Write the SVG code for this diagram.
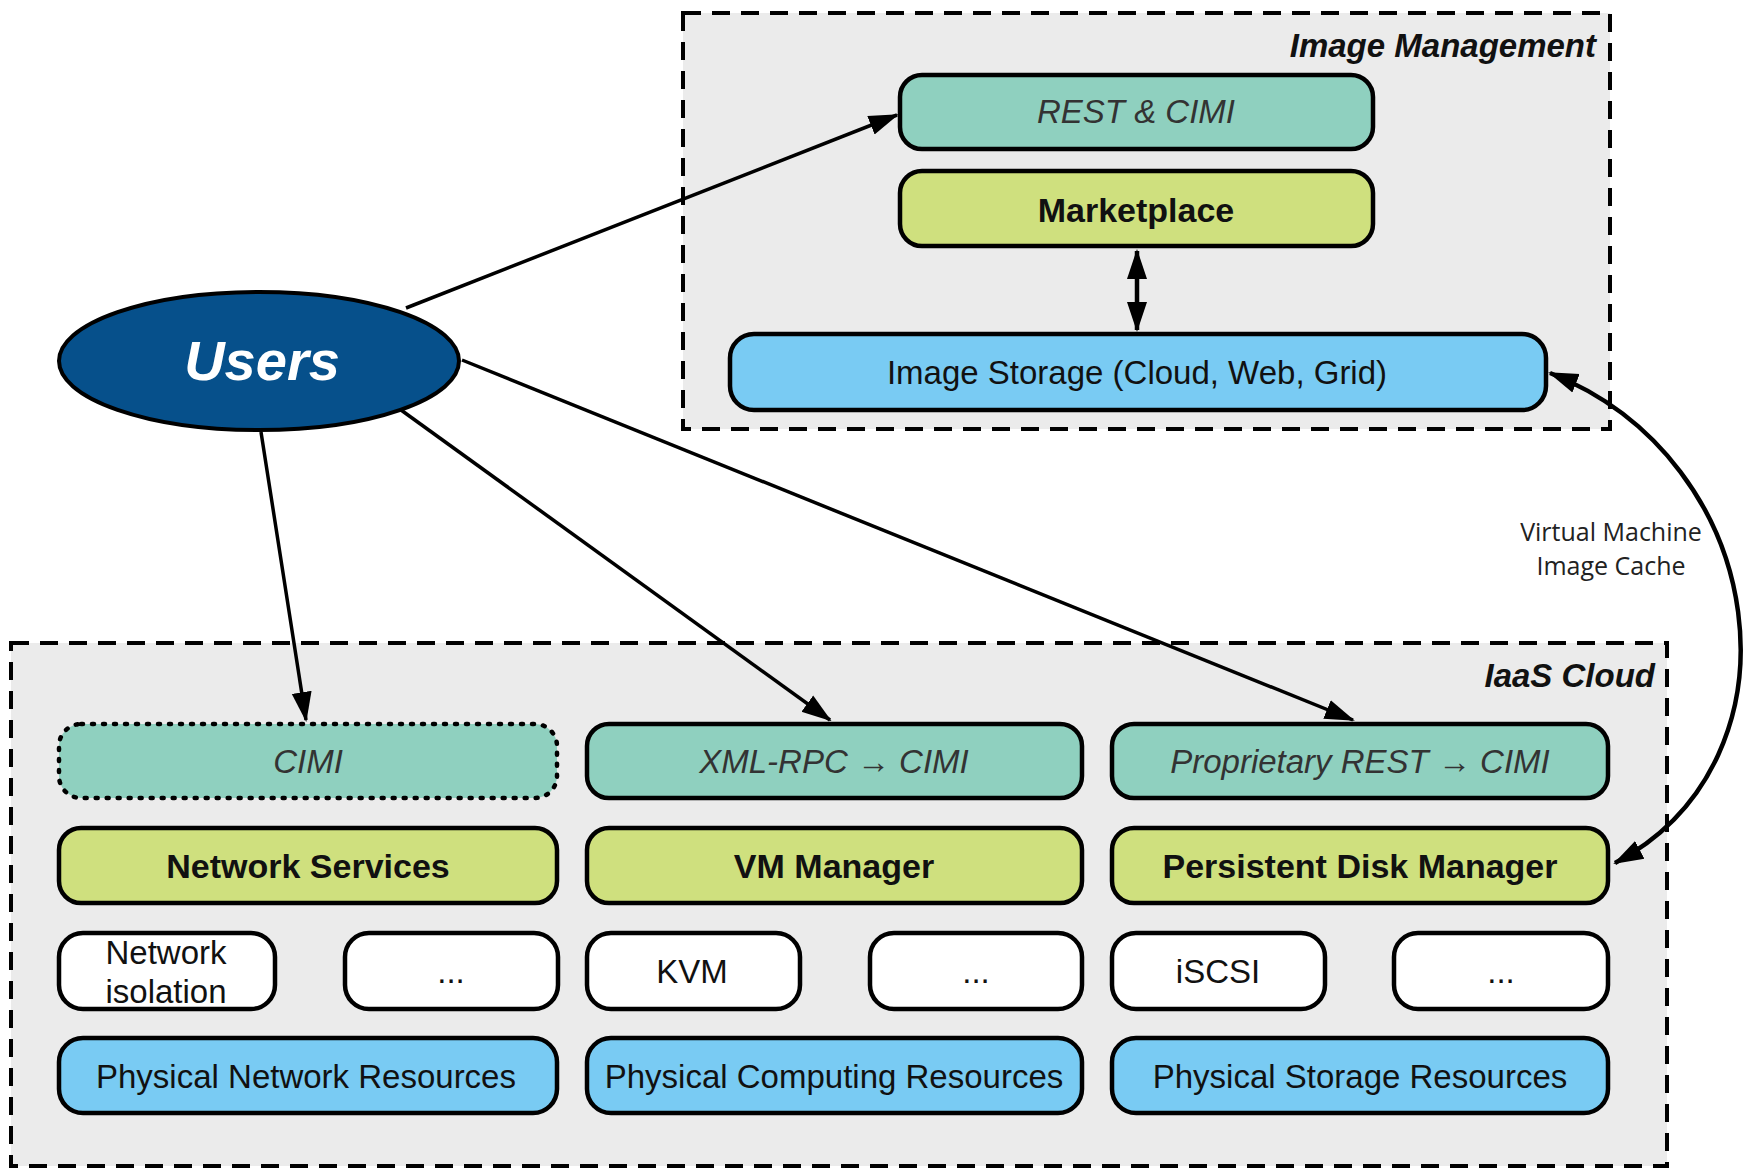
<svg xmlns="http://www.w3.org/2000/svg" width="1746" height="1168" viewBox="0 0 1746 1168">
<style>
.cont{fill:#ebebeb;stroke:#000;stroke-width:4;stroke-dasharray:18 11}
.box{stroke:#000;stroke-width:4.5}
.teal{fill:#8fd0bf}
.lime{fill:#cfe07e}
.blue{fill:#79cbf3}
.white{fill:#fff}
.t{font-family:"Liberation Sans",Arial,sans-serif;font-size:33px;fill:#111;text-anchor:middle}
.it{font-style:italic;fill:#333}
.b{font-weight:bold;font-size:34px}
.title{font-family:"Liberation Sans",Arial,sans-serif;font-weight:bold;font-style:italic;font-size:33px;text-anchor:end;fill:#111}
.conn{fill:none;stroke:#000;stroke-width:3.5}
.thick{stroke-width:4.5}
</style>
<defs>
<marker id="ah" markerUnits="userSpaceOnUse" markerWidth="30" markerHeight="22" refX="28" refY="10" orient="auto-start-reverse" viewBox="0 0 30 20">
<path d="M0,0 L30,10 L0,20 z" fill="#000"/>
</marker>
</defs>
<rect width="1746" height="1168" fill="#fff"/>

<g id="image-management">
<rect class="cont" x="683" y="13" width="927" height="416"/>
<text class="title" x="1596" y="57">Image Management</text>
</g>
<g id="iaas-cloud">
<rect class="cont" x="11" y="643" width="1656" height="523"/>
<text class="title" x="1655" y="687">IaaS Cloud</text>
</g>

<g id="rest-cimi"><rect class="box teal" x="900" y="75" width="473" height="74" rx="22"/><text class="t it" x="1136" y="123">REST &amp; CIMI</text></g>
<g id="marketplace"><rect class="box lime" x="900" y="171" width="473" height="75" rx="22"/><text class="t b" x="1136" y="222">Marketplace</text></g>
<g id="image-storage"><rect class="box blue" x="730" y="334" width="816" height="76" rx="24"/><text class="t" x="1137" y="384">Image Storage (Cloud, Web, Grid)</text></g>

<g id="users"><ellipse cx="259" cy="361" rx="200" ry="69" fill="#06508b" stroke="#000" stroke-width="4"/><text x="262" y="380" font-family="Liberation Sans,Arial,sans-serif" font-weight="bold" font-style="italic" font-size="56" fill="#fff" text-anchor="middle">Users</text></g>

<g id="cimi"><rect x="59" y="724" width="498" height="74" rx="22" class="teal" stroke="#000" stroke-width="4.5" stroke-dasharray="2 9" stroke-linecap="round"/><text class="t it" x="308" y="773">CIMI</text></g>
<g id="xmlrpc"><rect class="box teal" x="587" y="724" width="495" height="74" rx="22"/><text class="t it" x="834" y="773">XML-RPC → CIMI</text></g>
<g id="proprietary"><rect class="box teal" x="1112" y="724" width="496" height="74" rx="22"/><text class="t it" x="1360" y="773">Proprietary REST → CIMI</text></g>

<g id="network-services"><rect class="box lime" x="59" y="828" width="498" height="75" rx="22"/><text class="t b" x="308" y="878">Network Services</text></g>
<g id="vm-manager"><rect class="box lime" x="587" y="828" width="495" height="75" rx="22"/><text class="t b" x="834" y="878">VM Manager</text></g>
<g id="pdm"><rect class="box lime" x="1112" y="828" width="496" height="75" rx="22"/><text class="t b" x="1360" y="878">Persistent Disk Manager</text></g>

<g id="network-isolation"><rect class="box white" x="59" y="933" width="216" height="76" rx="24"/><text class="t" x="166" y="964">Network</text><text class="t" x="166" y="1003">isolation</text></g>
<g id="net-more"><rect class="box white" x="345" y="933" width="213" height="76" rx="24"/><text class="t" x="451" y="983">...</text></g>
<g id="kvm"><rect class="box white" x="587" y="933" width="213" height="76" rx="24"/><text class="t" x="692" y="983">KVM</text></g>
<g id="vm-more"><rect class="box white" x="870" y="933" width="212" height="76" rx="24"/><text class="t" x="976" y="983">...</text></g>
<g id="iscsi"><rect class="box white" x="1112" y="933" width="213" height="76" rx="24"/><text class="t" x="1218" y="983">iSCSI</text></g>
<g id="disk-more"><rect class="box white" x="1394" y="933" width="214" height="76" rx="24"/><text class="t" x="1501" y="983">...</text></g>

<g id="phys-net"><rect class="box blue" x="59" y="1038" width="498" height="75" rx="24"/><text class="t" x="306" y="1088">Physical Network Resources</text></g>
<g id="phys-comp"><rect class="box blue" x="587" y="1038" width="495" height="75" rx="24"/><text class="t" x="834" y="1088">Physical Computing Resources</text></g>
<g id="phys-stor"><rect class="box blue" x="1112" y="1038" width="496" height="75" rx="24"/><text class="t" x="1360" y="1088">Physical Storage Resources</text></g>

<g id="connectors">
<line class="conn" x1="406" y1="308" x2="897" y2="115" marker-end="url(#ah)"/>
<line class="conn" x1="261" y1="432" x2="306" y2="720" marker-end="url(#ah)"/>
<line class="conn" x1="401" y1="410" x2="830" y2="720" marker-end="url(#ah)"/>
<line class="conn" x1="462" y1="360" x2="1353" y2="720" marker-end="url(#ah)"/>
<line class="conn thick" x1="1137" y1="251" x2="1137" y2="330" marker-start="url(#ah)" marker-end="url(#ah)"/>
<path class="conn thick" d="M1550,373 C1770,460 1810,760 1615,863" marker-start="url(#ah)" marker-end="url(#ah)"/>
<text font-family="Open Sans,Liberation Sans,sans-serif" font-size="25" fill="#222" text-anchor="middle"><tspan x="1611" y="541">Virtual Machine</tspan><tspan x="1611" y="575">Image Cache</tspan></text>
</g>
</svg>
